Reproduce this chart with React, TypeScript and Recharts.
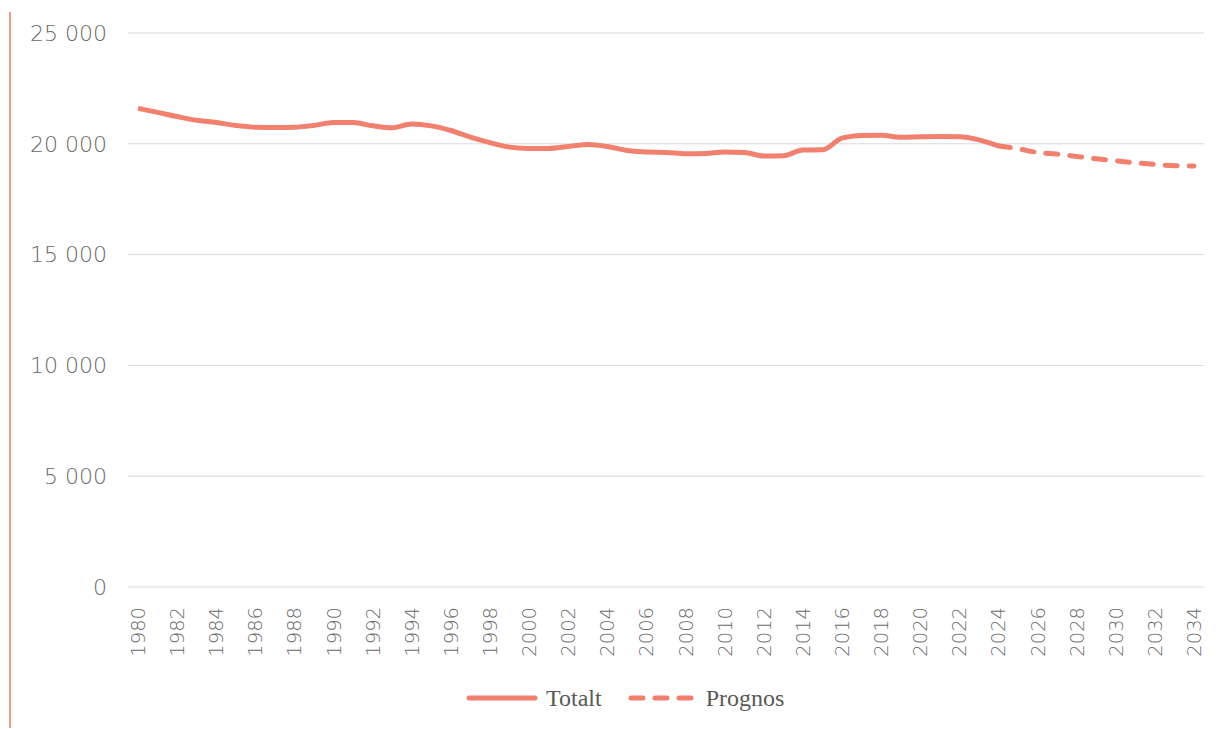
import React from 'react';
import { LineChart, Line, XAxis, YAxis, CartesianGrid, Legend } from 'recharts';

const years = [
  1980, 1981, 1982, 1983, 1984, 1985, 1986, 1987, 1988, 1989,
  1990, 1991, 1992, 1993, 1994, 1995, 1996, 1997, 1998, 1999,
  2000, 2001, 2002, 2003, 2004, 2005, 2006, 2007, 2008, 2009,
  2010, 2011, 2012, 2013, 2014, 2015, 2016, 2017, 2018, 2019,
  2020, 2021, 2022, 2023, 2024, 2025, 2026, 2027, 2028, 2029,
  2030, 2031, 2032, 2033, 2034,
];

// Totalt 1980-2024
const totalt = [
  21600, 21420, 21230, 21060, 20960, 20830, 20750, 20740, 20750, 20830,
  20960, 20960, 20810, 20720, 20890, 20810, 20600, 20300, 20050, 19850,
  19790, 19790, 19880, 19970, 19880, 19700, 19625, 19610, 19550, 19565,
  19625, 19610, 19450, 19460, 19720, 19730, 20255, 20375, 20390, 20300,
  20320, 20330, 20320, 20180, 19910,
];

// Prognos 2024-2034
const prognos = [19910, 19775, 19610, 19535, 19430, 19325, 19235, 19145, 19070, 19010, 19000];

const yTicks = [0, 5000, 10000, 15000, 20000, 25000];

const COLOR = '#f2806f';
const TEXT = '#6a6a6a';
const prognosStart = years.length - prognos.length;

const data = years.map((year, i) => ({
  year: String(year),
  totalt: i < totalt.length ? totalt[i] : null,
  prognos: i >= prognosStart ? prognos[i - prognosStart] : null,
}));

const fmt = (v: number) => String(v).replace(/\B(?=(\d{3})+(?!\d))/g, ' ');

const YearTick = (props: any) => {
  const { x, y, payload } = props;
  return (
    <text
      x={x}
      y={y + 12}
      transform={`rotate(-90, ${x}, ${y + 12})`}
      textAnchor="end"
      dy="0.36em"
      fill={TEXT}
      fontSize={19.5}
      fontFamily="'DejaVu Sans', sans-serif"
      fontWeight={200}
    >
      {payload.value}
    </text>
  );
};

const renderLegend = () => (
  <div
    style={{
      height: 62,
      display: 'flex',
      alignItems: 'center',
      paddingLeft: 466,
      fontFamily: "'Liberation Serif', serif",
      fontSize: 24,
      color: '#595959',
    }}
  >
    <svg width={72} height={10}>
      <line x1={3} y1={5} x2={69} y2={5} stroke={COLOR} strokeWidth={5} strokeLinecap="round" />
    </svg>
    <span style={{ marginLeft: 8 }}>Totalt</span>
    <svg width={68} height={10} style={{ marginLeft: 26 }}>
      <line x1={3} y1={5} x2={66} y2={5} stroke={COLOR} strokeWidth={5} strokeLinecap="round" strokeDasharray="12 12" />
    </svg>
    <span style={{ marginLeft: 10 }}>Prognos</span>
  </div>
);

export default function App() {
  return (
    <div style={{ position: 'absolute', left: 0, top: 0, width: 1218, height: 729, background: '#fff' }}>
      {/* red rule along the left edge */}
      <div style={{ position: 'absolute', left: 9, top: 12, width: 2, height: 716, background: '#f59a8e' }} />
      <LineChart width={1218} height={729} data={data} margin={{ top: 33, right: 14, bottom: 0, left: 0 }}>
        <CartesianGrid vertical={false} stroke="#d9d9d9" />
        <XAxis
          dataKey="year"
          interval={1}
          axisLine={false}
          tickLine={false}
          padding={{ left: 10, right: 10 }}
          height={80}
          tick={<YearTick />}
        />
        <YAxis
          width={128}
          domain={[0, 25000]}
          ticks={yTicks}
          axisLine={false}
          tickLine={false}
          tickMargin={15}
          tickFormatter={fmt}
          tick={{ fill: TEXT, fontSize: 22, fontFamily: "'DejaVu Sans', sans-serif", fontWeight: 200 }}
        />
        <Legend verticalAlign="bottom" height={62} content={renderLegend} />
        <Line
          type="monotone"
          dataKey="totalt"
          name="Totalt"
          stroke={COLOR}
          strokeWidth={5}
          dot={false}
          isAnimationActive={false}
        />
        <Line
          type="monotone"
          dataKey="prognos"
          name="Prognos"
          stroke={COLOR}
          strokeWidth={5}
          strokeDasharray="12 12"
          strokeLinecap="round"
          dot={false}
          isAnimationActive={false}
        />
      </LineChart>
    </div>
  );
}
